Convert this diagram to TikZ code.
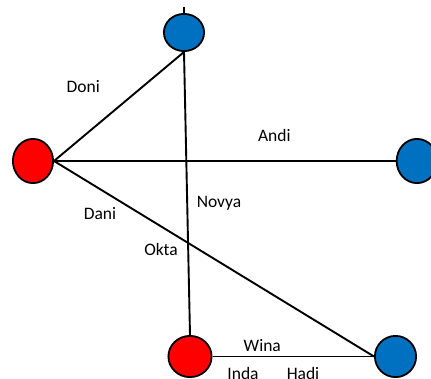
\documentclass[tikz,border=0pt]{standalone}
\usepackage{fontspec}
\setmainfont{Carlito}
\usetikzlibrary{shapes.geometric,backgrounds}
\definecolor{dotblue}{HTML}{0070C0}
\definecolor{dotred}{HTML}{FF0000}
\tikzset{
  vertex/.style={ellipse, draw=black, line width=1.8pt, inner sep=0pt},
  bluevertex/.style={vertex, fill=dotblue},
  redvertex/.style={vertex, fill=dotred},
  link/.style={draw=black, line width=1.9pt},
  edgetag/.style={anchor=base, inner sep=0pt, font=\fontsize{17.5}{20}\selectfont}
}
\begin{document}
\begin{tikzpicture}[x=1pt, y=-1pt]
  \useasboundingbox (0,0) rectangle (431,378);

  % vertices
  \node[bluevertex, minimum width=40.2pt, minimum height=37.2pt] (T)  at (184,32.5) {};
  \node[redvertex,  minimum width=40.2pt, minimum height=44.2pt] (L)  at (33,161) {};
  \node[bluevertex, minimum width=40.7pt, minimum height=44.2pt] (R)  at (417,161) {};
  \node[redvertex,  minimum width=43.2pt, minimum height=41.2pt] (BR) at (190,356.5) {};
  \node[bluevertex, minimum width=41.2pt, minimum height=41.2pt] (BB) at (395.5,356.5) {};
  \coordinate (tip) at (184,7);

  % edges, drawn behind the vertices
  \begin{scope}[on background layer]
    \draw[link] (L.east) -- (T.south);
    \draw[link] (L.east) -- (R.west);
    \draw[link] (L.east) -- (BB.west);
    \draw[link] (BR.north) -- (T.south);
    \draw[link] (BR.east) -- (BB.west);
    \draw[black, line width=1.4pt] (T.north) -- (tip);
  \end{scope}

  % labels
  \node[edgetag] (doni)  at (83.3,92)    {Doni};
  \node[edgetag] (andi)  at (274.3,141)  {Andi};
  \node[edgetag] (novya) at (219,207.5)  {Novya};
  \node[edgetag] (dani)  at (100,219.5)  {Dani};
  \node[edgetag] (okta)  at (161,255.5)  {Okta};
  \node[edgetag] (wina)  at (262.3,351)  {Wina};
  \node[edgetag] (inda)  at (243,379.5)  {Inda};
  \node[edgetag] (hadi)  at (303,379.5)  {Hadi};
\end{tikzpicture}
\end{document}
